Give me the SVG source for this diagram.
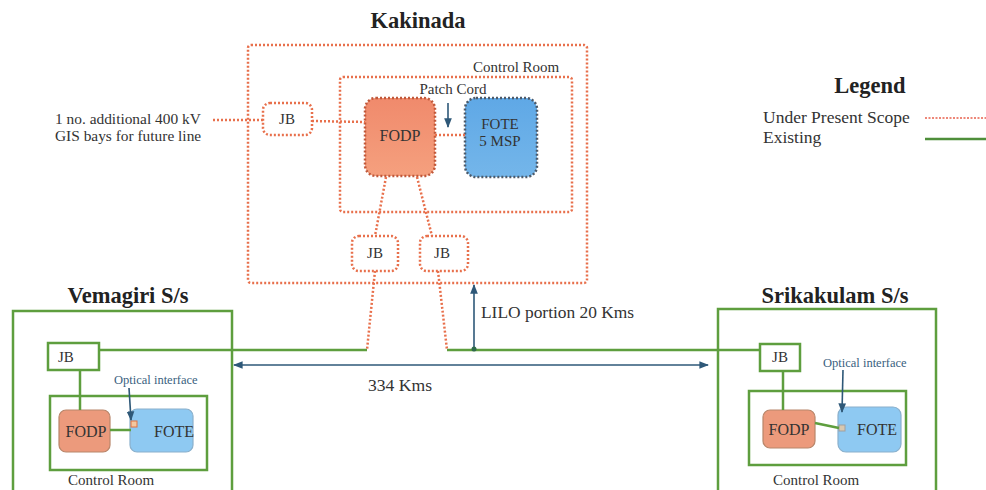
<svg xmlns="http://www.w3.org/2000/svg" width="986" height="490" viewBox="0 0 986 490" font-family="'Liberation Serif','DejaVu Serif','Noto Serif',serif">
<defs>
<style>
text{font-family:"Liberation Serif","DejaVu Serif","Noto Serif",serif;fill:#333}
.title{font-size:22.5px;font-weight:bold;fill:#222}
.lbl{font-size:15px}
.box{font-size:16px}
.small{font-size:12.5px;fill:#3a5f80}
.dot{fill:none;stroke:#E8704C;stroke-width:2.5;stroke-dasharray:2 2}
.dotf{stroke:#E8704C;stroke-width:2.5;stroke-dasharray:2 2}
.grn{fill:none;stroke:#5E9E3E;stroke-width:2.5}
.arr{stroke:#2E5878;stroke-width:1.6;fill:none}
</style>
<marker id="ah" viewBox="0 0 10 10" refX="9" refY="5" markerWidth="6" markerHeight="6" orient="auto-start-reverse"><path d="M0,1 L10,5 L0,9 z" fill="#2E5878"/></marker>
<linearGradient id="og" x1="0" y1="0" x2="0" y2="1"><stop offset="0" stop-color="#F08A6C"/><stop offset="1" stop-color="#F5A07E"/></linearGradient>
<linearGradient id="bg" x1="0" y1="0" x2="0" y2="1"><stop offset="0" stop-color="#5FA8E6"/><stop offset="1" stop-color="#74B6EA"/></linearGradient>
</defs>
<rect width="986" height="490" fill="#fff"/>

<g id="kakinada">
<text class="title" x="418" y="28" text-anchor="middle">Kakinada</text>
<rect class="dot" x="248" y="45" width="339" height="238" rx="3"/>
</g>
<g id="kakinada-control-room">
<rect class="dot" x="340" y="77" width="232" height="135" rx="3"/>
<text class="lbl" x="473" y="72">Control Room</text>
</g>
<g id="jb-future">
<rect class="dot" x="263" y="103" width="49" height="32" rx="7"/>
<text class="lbl" x="287" y="124" text-anchor="middle">JB</text>
</g>
<g id="kak-fodp">
<rect x="365" y="98" width="70" height="78" rx="11" fill="url(#og)" stroke="#C0583A" stroke-width="2.5" stroke-dasharray="2 2"/>
<text class="box" x="400" y="141" text-anchor="middle" fill="#5a2a1a">FODP</text>
</g>
<g id="kak-fote">
<rect x="465" y="98" width="72" height="79" rx="11" fill="url(#bg)" stroke="#4C5A6A" stroke-width="2.5" stroke-dasharray="2 2"/>
<text class="lbl" x="500" y="129" text-anchor="middle" fill="#1f3f6a">FOTE</text>
<text class="lbl" x="500" y="146" text-anchor="middle" fill="#1f3f6a">5 MSP</text>
</g>
<g id="jb-k1">
<rect class="dot" x="352" y="236" width="46" height="35" rx="7"/>
<text class="lbl" x="375" y="258" text-anchor="middle">JB</text>
</g>
<g id="jb-k2">
<rect class="dot" x="420" y="236" width="48" height="35" rx="7"/>
<text class="lbl" x="442" y="258" text-anchor="middle">JB</text>
</g>
<g id="future-text">
<text class="lbl" x="55" y="124" style="font-size:15.4px">1 no. additional 400 kV</text>
<text class="lbl" x="55" y="141" style="font-size:15.4px">GIS bays for future line</text>
</g>
<g id="patch-cord">
<text class="lbl" x="453" y="94" text-anchor="middle">Patch Cord</text>
</g>

<g id="vemagiri">
<text class="title" x="128" y="303" text-anchor="middle">Vemagiri S/s</text>
<rect class="grn" x="13" y="311" width="219" height="190"/>
</g>
<g id="vem-jb">
<rect class="grn" x="48" y="343" width="51" height="27"/>
<text class="lbl" x="58" y="362">JB</text>
</g>
<g id="vem-control-room">
<rect class="grn" x="50" y="396" width="157" height="74"/>
<text class="lbl" x="68" y="485">Control Room</text>
</g>
<g id="vem-fodp">
<rect x="59" y="410" width="51" height="42" rx="7" fill="#EC9A7C" stroke="#B8866A" stroke-width="1.2"/>
<text class="box" x="86" y="437" text-anchor="middle" fill="#5a2a1a">FODP</text>
</g>
<g id="vem-fote">
<rect x="130" y="409" width="63" height="43" rx="7" fill="#8EC9F2" stroke="#8AB0CC" stroke-width="1.2"/>
<rect x="131" y="421" width="6" height="6" fill="#F3C7A0" stroke="#E07040" stroke-width="1"/>
<text class="box" x="174" y="437" text-anchor="middle" fill="#1f3f6a">FOTE</text>
</g>
<g id="vem-optical">
<text class="small" x="114" y="384">Optical interface</text>
</g>

<g id="srikakulam">
<text class="title" x="835" y="303" text-anchor="middle">Srikakulam S/s</text>
<rect class="grn" x="718" y="309" width="218" height="192"/>
</g>
<g id="sri-jb">
<rect class="grn" x="760" y="344" width="40" height="27"/>
<text class="lbl" x="780" y="362" text-anchor="middle">JB</text>
</g>
<g id="sri-control-room">
<rect class="grn" x="749" y="391" width="157" height="74"/>
<text class="lbl" x="773" y="485">Control Room</text>
</g>
<g id="sri-fodp">
<rect x="763" y="410" width="52" height="38" rx="7" fill="#EC9A7C" stroke="#B8866A" stroke-width="1.2"/>
<text class="box" x="789" y="435" text-anchor="middle" fill="#5a2a1a">FODP</text>
</g>
<g id="sri-fote">
<rect x="838" y="407" width="63" height="45" rx="8" fill="#8EC9F2" stroke="#8AB0CC" stroke-width="1.2"/>
<rect x="839" y="425" width="6" height="6" fill="#D8C8B0" stroke="#A0A0A0" stroke-width="1"/>
<text class="box" x="877" y="435" text-anchor="middle" fill="#1f3f6a">FOTE</text>
</g>
<g id="sri-optical">
<text class="small" x="823" y="367">Optical interface</text>
</g>

<g id="legend">
<text class="title" x="870" y="93" text-anchor="middle">Legend</text>
<text class="lbl" x="763" y="123" style="font-size:17.5px">Under Present Scope</text>
<text class="lbl" x="763" y="143" style="font-size:17.5px">Existing</text>
<line x1="925" y1="118" x2="986" y2="118" stroke="#E8604C" stroke-width="1.5" stroke-dasharray="2 1.5"/>
<line x1="925" y1="139" x2="986" y2="139" stroke="#4E8E3A" stroke-width="2.5"/>
</g>

<g id="connectors">
<line class="dotf" x1="213" y1="120" x2="263" y2="120"/>
<line class="dotf" x1="312" y1="121" x2="365" y2="122"/>
<line class="dotf" x1="435" y1="135" x2="465" y2="135"/>
<line class="dotf" x1="386" y1="177" x2="375" y2="236"/>
<line class="dotf" x1="417" y1="177" x2="432" y2="236"/>
<line class="dotf" x1="375" y1="271" x2="367" y2="350"/>
<line class="dotf" x1="438" y1="271" x2="447" y2="350"/>
<line class="grn" x1="99" y1="350" x2="367" y2="350"/>
<line class="grn" x1="447" y1="350" x2="760" y2="350"/>
<line class="grn" x1="80" y1="370" x2="80" y2="410"/>
<line class="grn" x1="110" y1="430" x2="131" y2="430"/>
<line class="grn" x1="783" y1="371" x2="783" y2="410"/>
<line class="grn" x1="815" y1="423" x2="839" y2="428"/>
<line class="arr" x1="448" y1="103" x2="448" y2="127" marker-end="url(#ah)"/>
<line class="arr" x1="474" y1="350" x2="474" y2="285" marker-end="url(#ah)"/>
<circle cx="474" cy="349" r="2.5" fill="#2E6A4A"/>
<line class="arr" x1="234" y1="365" x2="708" y2="365" marker-start="url(#ah)" marker-end="url(#ah)"/>
<line class="arr" x1="129" y1="388" x2="131" y2="420" marker-end="url(#ah)"/>
<line class="arr" x1="843" y1="370" x2="842" y2="412" marker-end="url(#ah)"/>
<text class="lbl" x="481" y="318" style="font-size:17.4px">LILO portion 20 Kms</text>
<text class="lbl" x="368" y="391" style="font-size:17.6px">334 Kms</text>
</g>
</svg>
